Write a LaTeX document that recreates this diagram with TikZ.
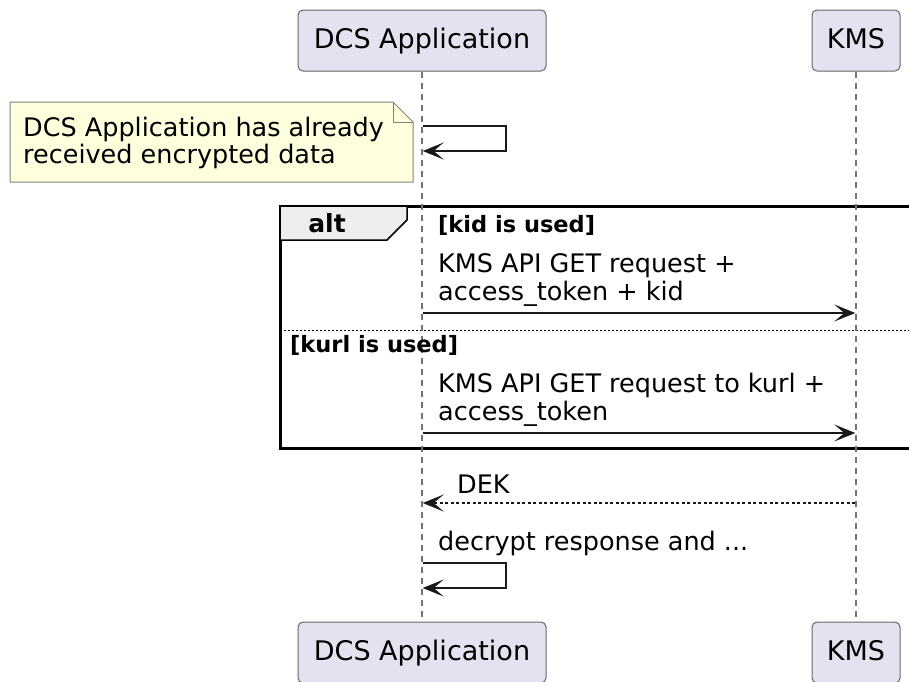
\documentclass[tikz,border=0pt]{standalone}
\usepackage{fontspec}
\setmainfont{DejaVu Sans}
\usetikzlibrary{arrows.meta}
\pgfdeclarelayer{edgelayer}
\pgfdeclarelayer{nodelayer}
\pgfsetlayers{edgelayer,nodelayer,main}
\definecolor{actorfill}{HTML}{E2E2F0}
\definecolor{notefill}{HTML}{FEFFDD}
\definecolor{tabfill}{HTML}{EEEEEE}
\tikzstyle{none}=[inner sep=0pt]
\tikzstyle{actor}=[rectangle,rounded corners=5pt,fill=actorfill,draw=black!60,line width=1pt,minimum height=61pt,inner sep=0pt,text height=20pt,text depth=5pt,font=\fontsize{27}{32}\selectfont]
\tikzstyle{msgtext}=[inner sep=0pt,anchor=base west,font=\fontsize{25.5}{30}\selectfont]
\tikzstyle{guard}=[inner sep=0pt,anchor=base west,font=\fontsize{22.5}{27}\selectfont\bfseries]
\tikzstyle{lifeline}=[draw=black!55,line width=1.2pt,dash pattern=on 6pt off 5pt]
\tikzstyle{message}=[-{Stealth[length=21pt,width=17pt,inset=10pt]},draw=black!90,line width=1.4pt]
\tikzstyle{reply}=[message,dash pattern=on 3pt off 2.5pt]
\tikzstyle{notebox}=[fill=notefill,draw=black!50,line width=1pt]
\tikzstyle{frame}=[draw=black,line width=3pt]
\tikzstyle{divider}=[draw=black,line width=1pt,dash pattern=on 2pt off 2pt]

\begin{document}
\begin{tikzpicture}[x=1pt,y=1pt]
	\useasboundingbox (0,0) rectangle (909,-681);
	\begin{pgfonlayer}{nodelayer}
		\node [style=actor, minimum width=248pt] (0) at (422, -40.5) {DCS Application};
		\node [style=actor, minimum width=88pt] (1) at (856, -40.5) {KMS};
		\node [style=actor, minimum width=248pt] (2) at (422, -652.5) {DCS Application};
		\node [style=actor, minimum width=88pt] (3) at (856, -652.5) {KMS};
		\node [style=msgtext] (4) at (23, -136) {DCS Application has already};
		\node [style=msgtext] (5) at (23, -163) {received encrypted data};
		\node [style=none, font=\fontsize{25}{30}\selectfont\bfseries] (6) at (327, -223) {alt};
		\node [style=guard] (7) at (438, -232) {[kid is used]};
		\node [style=msgtext] (8) at (438, -272) {KMS API GET request +};
		\node [style=msgtext] (9) at (438, -300) {access\_token + kid};
		\node [style=guard] (10) at (290, -352) {[kurl is used]};
		\node [style=msgtext] (11) at (438, -392) {KMS API GET request to kurl +};
		\node [style=msgtext] (12) at (438, -420) {access\_token};
		\node [style=msgtext] (13) at (457, -493) {DEK};
		\node [style=msgtext] (14) at (438, -550) {decrypt response and ...};
		\node [style=none] (20) at (422, -126) {};
		\node [style=none] (21) at (506, -126) {};
		\node [style=none] (22) at (506, -151) {};
		\node [style=none] (23) at (422, -151) {};
		\node [style=none] (24) at (422, -313) {};
		\node [style=none] (25) at (856, -313) {};
		\node [style=none] (26) at (422, -433) {};
		\node [style=none] (27) at (856, -433) {};
		\node [style=none] (28) at (856, -503) {};
		\node [style=none] (29) at (422, -503) {};
		\node [style=none] (30) at (422, -563) {};
		\node [style=none] (31) at (506, -563) {};
		\node [style=none] (32) at (506, -588) {};
		\node [style=none] (33) at (422, -588) {};
	\end{pgfonlayer}
	\begin{pgfonlayer}{edgelayer}
		% note and alt frame
		\draw [style=notebox] (10, -102) -- (393, -102) -- (413, -122) -- (413, -182) -- (10, -182) -- cycle;
		\draw [style=notebox, fill=none] (393, -102) -- (393, -122) -- (413, -122);
		\draw [style=frame] (280, -206) rectangle (915, -448);
		\draw [fill=tabfill, draw=black, line width=1.5pt] (280, -206) -- (407, -206) -- (407, -220) -- (387, -240) -- (280, -240) -- cycle;
		\draw [style=divider] (280, -330) -- (909, -330);
		% lifelines
		\draw [style=lifeline] (0) to (2);
		\draw [style=lifeline] (1) to (3);
		% messages
		\draw [style=message] (20) -- (21.center) -- (22.center) -- (23);
		\draw [style=message] (24) to (25);
		\draw [style=message] (26) to (27);
		\draw [style=reply] (28) to (29);
		\draw [style=message] (30) -- (31.center) -- (32.center) -- (33);
	\end{pgfonlayer}
\end{tikzpicture}
\end{document}
